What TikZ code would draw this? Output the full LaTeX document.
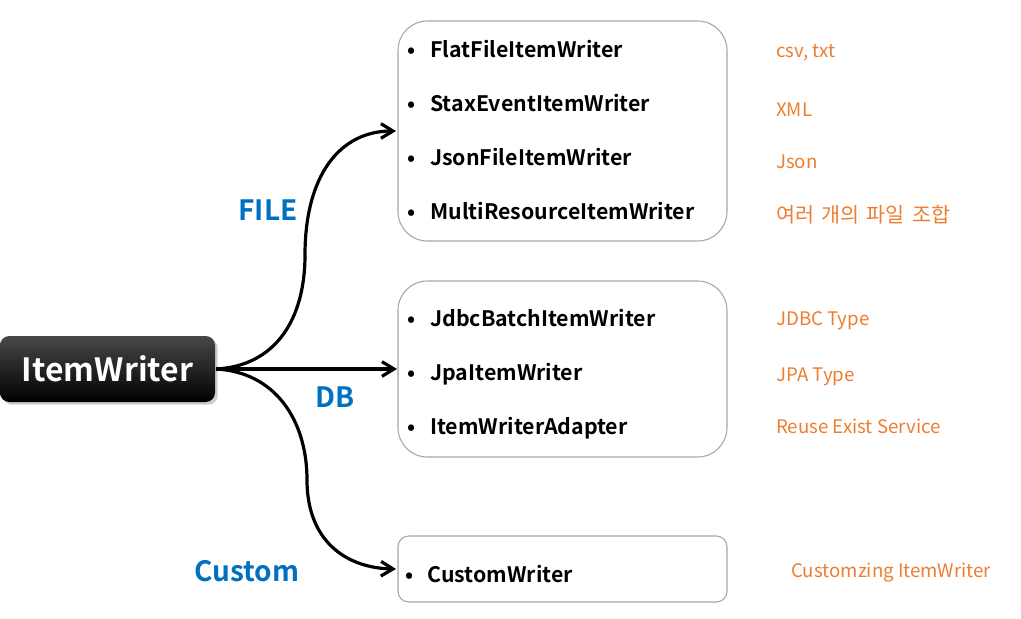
\documentclass[tikz,border=0pt]{standalone}
\usepackage{fontspec}
\setmainfont{Noto Sans CJK KR}[BoldFont={Noto Sans CJK KR Bold}]
\usetikzlibrary{arrows.meta,shadows}
\definecolor{orng}{HTML}{ED7D31}
\definecolor{blu}{HTML}{0070C0}
\definecolor{bord}{HTML}{A6A6A6}
\begin{document}
\begin{tikzpicture}[x=0.75pt,y=-0.75pt,
  grp/.style={draw=bord,line width=0.8pt,rounded corners=22pt},
  item/.style={anchor=base west,inner sep=0pt,font=\bfseries\fontsize{16}{18}\selectfont},
  bul/.style={anchor=base,inner sep=0pt,font=\bfseries\fontsize{16}{18}\selectfont},
  note/.style={anchor=base west,inner sep=0pt,text=orng,font=\fontsize{14}{16}\selectfont},
  cat/.style={inner sep=0pt,text=blu,font=\bfseries\fontsize{21}{23}\selectfont},
  conn/.style={line width=2.4pt,-{Straight Barb[length=9pt,width=11pt,line width=2.4pt]}}]
\useasboundingbox (0,0) rectangle (1021,618);
% main box
\node[minimum width=215*0.75pt,minimum height=66*0.75pt,rounded corners=7pt,
  top color=black!72,bottom color=black,drop shadow={shadow xshift=2pt,shadow yshift=-2pt,opacity=0.4},
  text=white,font=\bfseries\fontsize{24}{27}\selectfont,inner sep=0pt] (iw) at (107.5,369) {ItemWriter};
% groups
\draw[grp] (398,21) rectangle (727,241);
\draw[grp] (398,281) rectangle (727,457);
\draw[grp,rounded corners=8pt] (398,536) rectangle (727,602);
\coordinate (f) at (396,131);
\coordinate (d) at (397,369);
\coordinate (c) at (396,569);
\coordinate (o) at (216,369);
% items
\foreach \t/\y in {FlatFileItemWriter/57,StaxEventItemWriter/111,JsonFileItemWriter/165,MultiResourceItemWriter/219,JdbcBatchItemWriter/326,JpaItemWriter/380,ItemWriterAdapter/434}{
  \node[bul] at (412,\y) {•};
  \node[item] at (430,\y) {\t};
}
\node[bul] (b8) at (410,582) {•};
\node[item] (i8) at (427,582) {CustomWriter};
% notes
\node[note] (n1) at (776,57) {csv, txt};
\node[note] (n2) at (776,116) {XML};
\node[note] (n3) at (776,168) {Json};
\node[note,font=\fontsize{15.5}{17}\selectfont] (n4) at (776,222) {여러\hspace{2pt} 개의\hspace{2pt} 파일\hspace{2pt} 조합};
\node[note] (n5) at (776,325) {JDBC Type};
\node[note] (n6) at (776,381) {JPA Type};
\node[note] (n7) at (776,433) {Reuse Exist Service};
\node[note] (n8) at (791,577) {Customzing ItemWriter};
% categories
\node[cat] (lf) at (268,210) {FILE};
\node[cat] (ld) at (335,397) {DB};
\node[cat] (lc) at (247,571) {Custom};
% connectors
\draw[conn] (o) .. controls (275,366) and (305,320) .. (305,255) .. controls (305,175) and (340,131) .. (f);
\draw[conn] (o) -- (d);
\draw[conn] (o) .. controls (275,372) and (307,420) .. (307,480) .. controls (307,540) and (345,568) .. (c);
\end{tikzpicture}
\end{document}
